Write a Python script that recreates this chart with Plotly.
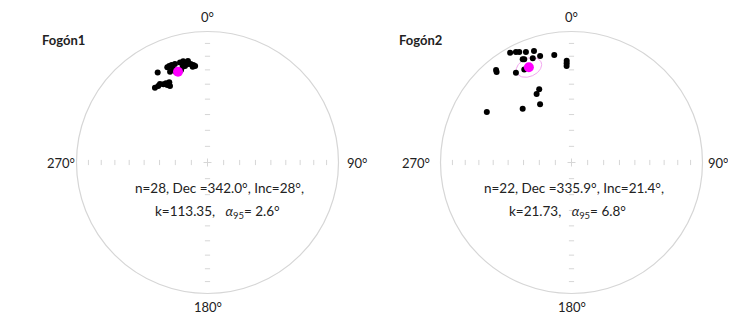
import numpy as np
import plotly.graph_objects as go

# ---- data (declination / inclination, degrees) ----
f1_dec = [331.0, 337.1, 338.4, 339.8, 341.7, 344.6, 346.5, 347.8, 348.9, 350.3,
          351.7, 351.2, 346.9, 345.5, 337.6, 324.9, 327.2, 330.6, 332.4, 334.5,
          333.9, 332.6, 340.8, 344.0, 339.8, 349.1, 352.7, 328.8]
f1_inc = [22.6, 22.2, 21.8, 21.8, 21.9, 22.0, 21.6, 23.6, 24.4, 24.7,
          25.8, 26.9, 25.3, 25.4, 26.0, 30.9, 31.2, 32.0, 32.2, 32.7,
          35.2, 33.8, 27.7, 27.4, 24.9, 22.1, 26.6, 30.6]
f1_mean = (342.0, 28.0)
f1_a95 = 2.6

f2_dec = [330.8, 333.3, 334.7, 337.6, 341.4, 334.7, 335.4, 339.6, 343.6, 350.9,
          357.3, 357.2, 357.1, 320.8, 320.4, 328.2, 333.1, 336.2, 333.0, 331.6,
          317.8, 300.8]
f2_inc = [4.5, 6.2, 7.4, 9.6, 11.2, 13.9, 14.4, 16.3, 16.3, 18.0,
          23.3, 25.2, 27.1, 9.8, 11.3, 20.6, 21.4, 38.8, 41.0, 48.2,
          43.8, 25.7]
f2_mean = (335.9, 21.4)
f2_a95 = 6.8

titles = ["Fogón1", "Fogón2"]
stats1 = ["n=28, Dec =342.0°, Inc=28°,", "n=22, Dec =335.9°, Inc=21.4°,"]
stats2 = ["k=113.35,   <i>α</i><sub>95</sub>= 2.6°", "k=21.73,   <i>α</i><sub>95</sub>= 6.8°"]
tick_incs = [10, 20, 30, 40, 50, 60, 70, 80]
dir_labels = ["0°", "90°", "180°", "270°"]


def proj(dec, inc):
    d = np.radians(np.asarray(dec, float))
    i = np.radians(np.asarray(inc, float))
    r = np.sqrt(1 - np.sin(i))
    return r * np.sin(d), r * np.cos(d)


def cone(dec, inc, a95, n=120):
    d, i = np.radians(dec), np.radians(inc)
    m = np.array([np.cos(i) * np.cos(d), np.cos(i) * np.sin(d), np.sin(i)])
    u = np.array([-np.sin(i) * np.cos(d), -np.sin(i) * np.sin(d), np.cos(i)])
    v = np.cross(m, u)
    a = np.radians(a95)
    t = np.linspace(0, 2 * np.pi, n)
    pts = np.cos(a) * m[:, None] + np.sin(a) * (np.cos(t) * u[:, None] + np.sin(t) * v[:, None])
    decs = np.degrees(np.arctan2(pts[1], pts[0]))
    incs = np.degrees(np.arcsin(np.clip(pts[2], -1, 1)))
    return proj(decs, incs)


fig = go.Figure()
R = 131.0
W, H = 728, 314
centers = [(199.5, 154.5), (563.5, 154.5)]
domains = [(0, 0.5), (0.5, 1.0)]
datasets = [(f1_dec, f1_inc, f1_mean, f1_a95), (f2_dec, f2_inc, f2_mean, f2_a95)]
title_pos = [(-1.103, 0.935), (-1.156, 0.935)]
stat_pos = [((0.095, -0.195), (0.073, -0.378)), ((0.019, -0.195), (-0.027, -0.378))]
lab_pos = [
    {"0°": (0, 1.108), "90°": (1.141, 0), "180°": (0, -1.103), "270°": (-1.118, 0)},
    {"0°": (0, 1.108), "90°": (1.118, 0), "180°": (0, -1.103), "270°": (-1.185, 0)},
]
FONT = "Lato, sans-serif"
GRAY = "#d6d6d6"

layout_axes = {}
for k in range(2):
    cx, cy = centers[k]
    d0, d1 = domains[k]
    xl = (d0 * W - cx) / R
    xr = (d1 * W - cx) / R
    yb = -(H - cy) / R
    yt = cy / R
    sfx = "" if k == 0 else str(k + 1)
    xa, ya = "x" + sfx, "y" + sfx
    layout_axes["xaxis" + sfx] = dict(domain=[d0, d1], range=[xl, xr], visible=False, fixedrange=True, anchor=ya)
    layout_axes["yaxis" + sfx] = dict(domain=[0, 1], range=[yb, yt], visible=False, fixedrange=True, anchor=xa)

    # primitive circle
    fig.add_shape(type="circle", xref=xa, yref=ya, x0=-1, y0=-1, x1=1, y1=1,
                  line=dict(color=GRAY, width=1.2), layer="below")
    # ticks along axes
    tl = 2.6 / R
    for inc in tick_incs:
        r = float(np.sqrt(1 - np.sin(np.radians(inc))))
        for s in (-1, 1):
            fig.add_shape(type="line", xref=xa, yref=ya, x0=s * r, x1=s * r, y0=-tl, y1=tl,
                          line=dict(color=GRAY, width=1), layer="below")
            fig.add_shape(type="line", xref=xa, yref=ya, x0=-tl, x1=tl, y0=s * r, y1=s * r,
                          line=dict(color=GRAY, width=1), layer="below")
    cl = 4 / R
    fig.add_shape(type="line", xref=xa, yref=ya, x0=-cl, x1=cl, y0=0, y1=0, line=dict(color=GRAY, width=1))
    fig.add_shape(type="line", xref=xa, yref=ya, x0=0, x1=0, y0=-cl, y1=cl, line=dict(color=GRAY, width=1))

    dec, inc, mean, a95 = datasets[k]
    ex, ey = cone(mean[0], mean[1], a95)
    fig.add_trace(go.Scatter(x=ex, y=ey, mode="lines", xaxis=xa, yaxis=ya,
                             line=dict(color="#f2a6ef", width=1), showlegend=False, hoverinfo="skip"))
    px, py = proj(dec, inc)
    fig.add_trace(go.Scatter(x=px, y=py, mode="markers", xaxis=xa, yaxis=ya,
                             marker=dict(color="black", size=6), showlegend=False))
    mx, my = proj([mean[0]], [mean[1]])
    fig.add_trace(go.Scatter(x=mx, y=my, mode="markers", xaxis=xa, yaxis=ya,
                             marker=dict(color="#ff00ff", size=10), showlegend=False))

    for lab in dir_labels:
        lx, ly = lab_pos[k][lab]
        fig.add_annotation(x=lx, y=ly, xref=xa, yref=ya, text=lab, showarrow=False, borderpad=0,
                           font=dict(family=FONT, size=13, color="#222"))
    tx, ty = title_pos[k]
    fig.add_annotation(x=tx, y=ty, xref=xa, yref=ya, text="<b>" + titles[k] + "</b>", showarrow=False,
                       font=dict(family=FONT, size=13, color="#222"))
    (s1x, s1y), (s2x, s2y) = stat_pos[k]
    fig.add_annotation(x=s1x, y=s1y, xref=xa, yref=ya, text=stats1[k], showarrow=False,
                       font=dict(family=FONT, size=13.5, color="#222"))
    fig.add_annotation(x=s2x, y=s2y, xref=xa, yref=ya, text=stats2[k], showarrow=False,
                       font=dict(family=FONT, size=13.5, color="#222"))

fig.update_layout(width=W, height=H, margin=dict(l=0, r=0, t=0, b=0),
                  paper_bgcolor="white", plot_bgcolor="white", **layout_axes)
fig.write_html("out.html")
